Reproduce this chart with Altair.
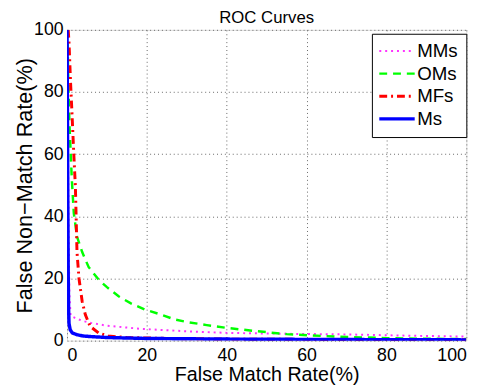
import altair as alt
import pandas as pd

series_names = ["MMs", "OMs", "MFs", "Ms"]
series_colors = ["#ff33ff", "#00ff00", "#ff0000", "#0000ff"]
series_dashes = [[2, 4], [8, 6], [8, 4, 2, 4], [1, 0]]
series_widths = [2, 3.5, 3, 3]

mms_x = [0, 0.2, 0.4, 0.6, 0.9, 2, 4, 6, 10, 18.5, 30, 40, 55, 70, 85, 100]
mms_y = [100, 70, 35, 15, 8, 7.3, 6.3, 5.7, 4.8, 3.8, 3.0, 2.5, 2.2, 2.0, 1.6, 1.3]

oms_x = [0.1, 0.3, 0.6, 0.9, 1.2, 1.7, 2.5, 3.8, 5.4, 8, 10, 13, 16, 19.5, 23, 27, 30, 35,
         40, 47, 55, 64, 70, 80, 90, 100]
oms_y = [100, 85, 70, 61, 52, 41, 33.5, 28.5, 23.7, 19.5, 17.2, 14.2, 12, 10, 8.6, 6.8, 6, 5,
         4.1, 3.1, 2.1, 1.5, 1.2, 0.8, 0.6, 0.5]

mfs_x = [0.3, 0.5, 0.9, 1.3, 1.7, 2.1, 2.3, 2.5, 3.0, 3.8, 4.6, 5.8, 7.9, 10.3, 15, 25, 40,
         60, 80, 100]
mfs_y = [100, 96, 82.7, 71.6, 60, 49.5, 39, 28.5, 20, 12.6, 8.3, 4.6, 2.5, 1.5, 1.0, 0.7, 0.5,
         0.4, 0.35, 0.3]

ms_x = [0, 0.1, 0.2, 0.3, 0.4, 0.5, 0.8, 1.3, 2.5, 4, 6, 10, 20, 40, 70, 100]
ms_y = [100, 75, 45, 22, 10, 5.5, 3.5, 2.5, 1.9, 1.5, 1.3, 1.0, 0.7, 0.5, 0.35, 0.25]

x_ticks = [0, 20, 40, 60, 80, 100]
y_ticks = [0, 20, 40, 60, 80, 100]

rows = []
for name, xs, ys in [("MMs", mms_x, mms_y), ("OMs", oms_x, oms_y),
                     ("MFs", mfs_x, mfs_y), ("Ms", ms_x, ms_y)]:
    for i, (a, b) in enumerate(zip(xs, ys)):
        rows.append({"series": name, "fmr": a, "fnmr": b, "idx": i})
df = pd.DataFrame(rows)

FONT = "Liberation Sans"

x_enc = alt.X("fmr:Q", scale=alt.Scale(domain=[0, 100], nice=False),
              axis=alt.Axis(values=x_ticks, title="False Match Rate(%)", grid=True,
                            gridDash=[1, 3], gridColor="#666666", domain=False, ticks=False,
                            labelPadding=6, labelFontSize=18, labelFont=FONT,
                            labelColor="black", titleFontSize=20, titleFont=FONT,
                            titleFontWeight="normal", titleColor="black",
                            titleBaseline="alphabetic", titleY=41))
y_enc = alt.Y("fnmr:Q", scale=alt.Scale(domain=[0, 100], nice=False),
              axis=alt.Axis(values=y_ticks, title="False Non\u2212Match Rate(%)", grid=True,
                            gridDash=[1, 3], gridColor="#666666", domain=False, ticks=False,
                            labelPadding=4, labelFontSize=18, labelFont=FONT,
                            labelColor="black", titleFontSize=22, titleFont=FONT,
                            titleFontWeight="normal", titleColor="black",
                            titleBaseline="alphabetic", titleAngle=270, titleX=-36,
                            titleY=158, titleAlign="center"))

leg = alt.Legend(title=None, orient="none", legendX=310, legendY=4, padding=8,
                 strokeColor="black", fillColor="white", labelFontSize=19, labelFont=FONT,
                 labelColor="black", symbolType="M-3,0H3", symbolSize=144,
                 symbolOffset=8, labelOffset=11, rowPadding=3, cornerRadius=0)

color_enc = alt.Color("series:N", scale=alt.Scale(domain=series_names, range=series_colors),
                      legend=leg)
dash_enc = alt.StrokeDash("series:N", scale=alt.Scale(domain=series_names, range=series_dashes),
                          legend=leg)
width_enc = alt.StrokeWidth("series:N", scale=alt.Scale(domain=series_names, range=series_widths),
                            legend=leg)

layers = []
for name in series_names:
    layers.append(
        alt.Chart(df).transform_filter(alt.datum.series == name)
        .mark_line(clip=True)
        .encode(x=x_enc, y=y_enc, color=color_enc, strokeDash=dash_enc,
                strokeWidth=width_enc, order="idx:Q")
    )

chart = alt.layer(*layers).properties(
    width=406, height=316,
    title=alt.TitleParams("ROC Curves", font=FONT, fontSize=17, fontWeight="normal",
                          color="black", baseline="alphabetic", offset=-3, dy=16),
    autosize=alt.AutoSizeParams(type="none"),
    padding={"left": 60, "top": 19, "right": 20, "bottom": 48},
).configure_view(stroke="black", strokeWidth=1).configure(background="white")

chart.save("out.html", embed_options={"renderer": "svg", "actions": False})
